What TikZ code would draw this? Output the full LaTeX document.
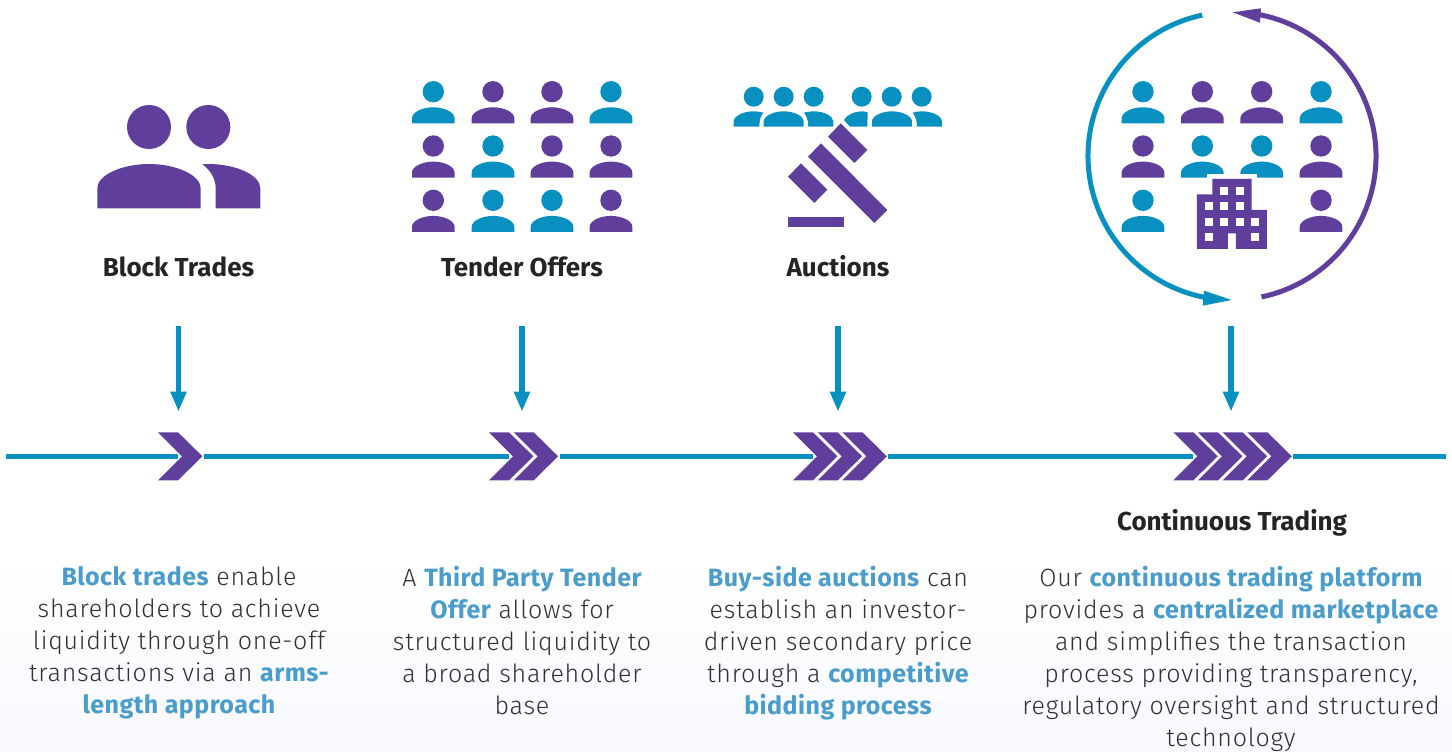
\documentclass[tikz,border=0pt]{standalone}
\usepackage{fontspec}
\setmainfont{Fira Sans Light}[LetterSpace=3.05]
\newfontfamily\headfont{Fira Sans Bold}
\newfontfamily\boldfont{Fira Sans Bold}[LetterSpace=1.9]
\usetikzlibrary{arrows.meta}
\definecolor{vio}{HTML}{5F3F9B}
\definecolor{teal}{HTML}{0790C0}
\definecolor{lbl}{HTML}{4A9CCB}
\definecolor{ink}{HTML}{2F3133}
\definecolor{head}{HTML}{242424}
\definecolor{bgbot}{HTML}{F7F9FD}
\newcommand{\bl}[1]{{\boldfont\color{lbl}#1}}
\newcommand{\person}[3]{\begin{scope}[shift={(#1,#2)}]
  \fill[#3] (0,0) circle (10.7pt);
  \fill[#3] (-21.3,31.6) -- (-21.3,26.5) .. controls (-21.3,20.5) and (-11,15.6) .. (0,15.6)
     .. controls (11,15.6) and (21.3,20.5) .. (21.3,26.5) -- (21.3,31.6) -- cycle;
\end{scope}}
\newcommand{\chev}[1]{\fill[vio,shift={(#1,0)}] (0,432.3) -- (20,432.3) -- (44.4,456.3) -- (20,480.3) -- (0,480.3) -- (24,456.3) -- cycle;}
\tikzset{
  px/.style={x=1pt,y=-1pt},
  timeline/.style={draw=teal,line width=5.4pt},
  drop/.style={draw=teal,line width=5.6pt,-{Triangle[length=20pt,width=15pt]}},
  cyc/.style={line width=5pt},
  title/.style={inner sep=0pt,anchor=base,text=head,font=\headfont\fontsize{26}{30}\selectfont},
  para/.style={inner sep=0pt,anchor=north,align=center,text=ink,font=\fontsize{25}{32}\selectfont},
}
\begin{document}
\begin{tikzpicture}[px]
\useasboundingbox (0,0) rectangle (1452,752);
\shade[top color=white,bottom color=bgbot] (0,550) rectangle (1452,752);

% Block trades icon
\fill[vio] (149,127) circle (22pt);
\fill[vio] (208.3,127) circle (22pt);
\fill[vio] (97.3,208.3) -- (97.3,188.3) .. controls (97.3,175) and (122,164) .. (149,164)
   .. controls (176,164) and (200.7,175) .. (200.7,188.3) -- (200.7,208.3) -- cycle;
\fill[vio] (202.3,164) .. controls (211,171) and (215.7,179) .. (215.7,188.3) -- (215.7,208.3) -- (260.3,208.3) -- (260.3,188.3)
   .. controls (260.3,175) and (236,164) .. (208,164) -- cycle;

% Tender offers icon
\foreach \x/\y/\c in {433.3/91.7/teal,493/91.7/vio,552/91.7/vio,611/91.7/teal,
  433.3/146/vio,493/146/teal,552/146/vio,611/146/vio,
  433.3/200.3/vio,493/200.3/teal,552/200.3/teal,611/200.3/vio}{\person{\x}{\y}{\c}}

% Auctions icon
\foreach \x in {753.7,783.7,813.7,861.7,891.7,921.7}{\fill[teal] (\x,96.7) circle (10pt);}
\begin{scope}[shift={(720,70)},x=0.3333pt,y=-0.3333pt]
  \fill[teal] (41,170) -- (41,155) .. controls (41,138) and (70,124) .. (100,124) .. controls (112,124) and (122,126) .. (130,128) .. controls (122,138) and (118,152) .. (118,170) -- cycle;
  \fill[teal] (131,170) -- (131,155) .. controls (131,138) and (160,124) .. (191,124) .. controls (222,124) and (251,138) .. (251,155) -- (251,170) -- cycle;
  \fill[teal] (252,128) .. controls (262,125) and (272,124) .. (282,124) .. controls (312,124) and (340,138) .. (340,155) -- (340,170) -- (265,170) .. controls (265,152) and (260,138) .. (252,128) -- cycle;
  \fill[teal] (372,150) .. controls (380,134) and (405,124) .. (425,124) .. controls (432,124) and (437,125) .. (443,127) .. controls (443,140) and (442,155) .. (442,170) -- (390,170) -- cycle;
  \fill[teal] (456,170) -- (456,155) .. controls (456,138) and (485,124) .. (516,124) .. controls (547,124) and (576,138) .. (576,155) -- (576,170) -- cycle;
  \fill[teal] (578,128) .. controls (587,125) and (597,124) .. (607,124) .. controls (637,124) and (666,138) .. (666,155) -- (666,170) -- (591,170) .. controls (591,152) and (586,138) .. (578,128) -- cycle;
  \fill[vio] (362,160) -- (442,240) -- (403,279) -- (324,200) -- cycle;
  \fill[vio] (303,220) -- (502,420) -- (463,459) -- (264,260) -- cycle;
  \fill[vio] (243,280) -- (322,359) -- (283,399) -- (204,320) -- cycle;
  \fill[vio] (203,442) rectangle (373,470);
\end{scope}

% Continuous trading icon
\foreach \x/\y/\c in {1143/91.7/teal,1202.3/91.7/vio,1261.7/91.7/vio,1321/91.7/teal,
  1143/146/vio,1202.3/146/teal,1261.7/146/teal,1321/146/vio,
  1143/200.3/teal,1321/200.3/vio}{\person{\x}{\y}{\c}}
\begin{scope}[shift={(1080,0)},x=0.3333pt,y=-0.3333pt]
  \fill[white] (381,521) rectangle (531,537);
  \fill[vio] (351,583) -- (397,583) -- (397,537) -- (515,537) -- (515,630) -- (561,630) -- (561,747) -- (468,747) -- (468,700) -- (444,700) -- (444,747) -- (351,747) -- cycle;
  \foreach \x/\y in {421/560,468/560,375/607,421/607,468/607,375/654,421/654,468/654,514/654,375/700,514/700}{
    \fill[white] (\x,\y) rectangle ++(24,24);}
\end{scope}

% Cycle arrows
\coordinate (cyc) at (1232,156);
\draw[teal,cyc] (cyc) ++(101.9:144pt) arc[start angle=101.9,end angle=259,radius=144pt];
\draw[vio,cyc] (cyc) ++(-78.2:144pt) arc[start angle=-78.2,end angle=78.8,radius=144pt];
\fill[teal] (1204,290.7) -- (1231.7,300) -- (1202.7,305.7) -- cycle;
\fill[vio] (1261,8.3) -- (1232.7,12.3) -- (1260,22.7) -- cycle;

% Titles
\node[title] (tBlock) at (178.5,276) {Block Trades};
\node[title] (tTender) at (522,276) {Tender Offers};
\node[title] (tAuction) at (838,276) {Auctions};
\node[title] (tCont) at (1232,530) {Continuous Trading};

% Drop arrows
\foreach \n/\x in {a/178.5,b/522,c/838,d/1231}{
  \coordinate (\n1) at (\x,326);
  \coordinate (\n2) at (\x,411.7);
  \draw[drop] (\n1) -- (\n2);
}

% Timeline
\foreach \n/\x in {p0/6,p1/178,p2/204,p3/509,p4/560,p5/813,p6/888,p7/1193,p8/1293,p9/1446}{\coordinate (\n) at (\x,456.3);}
\draw[timeline] (p0) -- (p1);
\draw[timeline] (p2) -- (p3);
\draw[timeline] (p4) -- (p5);
\draw[timeline] (p6) -- (p7);
\draw[timeline] (p8) -- (p9);

% Chevrons
\chev{158}
\chev{489}\chev{513.7}
\chev{793}\chev{817.7}\chev{842.4}
\chev{1173.3}\chev{1198}\chev{1222.7}\chev{1247.4}

% Paragraphs
\node[para] (pBlock) at (179,566) {\bl{Block trades} enable\\ shareholders to achieve\\ liquidity through one-off\\ transactions via an \bl{arms-}\\ \bl{length approach}};
\node[para] (pTender) at (522,566) {A \bl{Third Party Tender}\\ \bl{Offer} allows for\\ structured liquidity to\\ a broad shareholder\\ base};
\node[para] (pAuction) at (838,566) {\bl{Buy-side auctions} can\\ establish an investor-\\ driven secondary price\\ through a \bl{competitive}\\ \bl{bidding process}};
\node[para] (pCont) at (1231,566) {Our \bl{continuous trading platform}\\ provides a \bl{centralized marketplace}\\ and simplifies the transaction\\ process providing transparency,\\ regulatory oversight and structured\\ technology};
\end{tikzpicture}
\end{document}
